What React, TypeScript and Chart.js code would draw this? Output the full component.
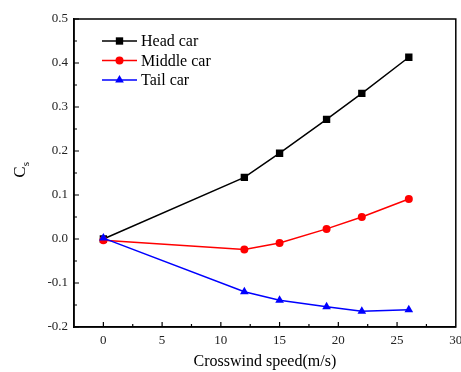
import React, { useEffect, useRef } from "react";
import { Chart, registerables } from "chart.js";

Chart.register(...registerables);

const speeds = [0, 12, 15, 19, 22, 26];
const headCar = [0.0, 0.14, 0.195, 0.272, 0.331, 0.413];
const middleCar = [-0.003, -0.024, -0.009, 0.023, 0.05, 0.091];
const tailCar = [0.002, -0.12, -0.139, -0.154, -0.164, -0.161];
const seriesLabels = ["Head car", "Middle car", "Tail car"];
const xTicks = [0, 5, 10, 15, 20, 25, 30];
const yTicks = [-0.2, -0.1, 0.0, 0.1, 0.2, 0.3, 0.4, 0.5];
const xMinorTicks = [2.5, 7.5, 12.5, 17.5, 22.5, 27.5];
const yMinorTicks = [-0.15, -0.05, 0.05, 0.15, 0.25, 0.35, 0.45];
const xTitle = "Crosswind speed(m/s)";

const FONT = "'Liberation Serif', 'Times New Roman', serif";

function drawMarker(ctx: CanvasRenderingContext2D, style: string, x: number, y: number, r: number, color: string) {
  ctx.save();
  ctx.fillStyle = color;
  ctx.beginPath();
  if (style === "rect") {
    const s = Math.SQRT1_2 * r;
    ctx.rect(x - s, y - s, 2 * s, 2 * s);
  } else if (style === "circle") {
    ctx.arc(x, y, r, 0, Math.PI * 2);
  } else if (style === "triangle") {
    let rad = 0;
    ctx.moveTo(x + Math.sin(rad) * r, y - Math.cos(rad) * r);
    rad += (2 * Math.PI) / 3;
    ctx.lineTo(x + Math.sin(rad) * r, y - Math.cos(rad) * r);
    rad += (2 * Math.PI) / 3;
    ctx.lineTo(x + Math.sin(rad) * r, y - Math.cos(rad) * r);
    ctx.closePath();
  }
  ctx.fill();
  ctx.restore();
}

const decorPlugin = {
  id: "decor",
  afterDraw(chart: any) {
    const ctx: CanvasRenderingContext2D = chart.ctx;
    const area = chart.chartArea;
    const xs = chart.scales.x;
    const ys = chart.scales.y;
    ctx.save();
    ctx.strokeStyle = "#000";
    ctx.lineWidth = 1.5;
    ctx.strokeRect(area.left, area.top, area.right - area.left, area.bottom - area.top);
    ctx.lineWidth = 1.2;
    ctx.beginPath();
    xTicks.forEach((v) => {
      const px = xs.getPixelForValue(v);
      if (px > area.right - 1) return;
      ctx.moveTo(px, area.bottom);
      ctx.lineTo(px, area.bottom - 5);
    });
    xMinorTicks.forEach((v) => {
      const px = xs.getPixelForValue(v);
      ctx.moveTo(px, area.bottom);
      ctx.lineTo(px, area.bottom - 3);
    });
    yTicks.forEach((v) => {
      const py = ys.getPixelForValue(v);
      ctx.moveTo(area.left, py);
      ctx.lineTo(area.left + 5, py);
    });
    yMinorTicks.forEach((v) => {
      const py = ys.getPixelForValue(v);
      ctx.moveTo(area.left, py);
      ctx.lineTo(area.left + 3, py);
    });
    ctx.stroke();

    // legend
    const lx = area.left + 28;
    const ly = area.top + 22;
    chart.data.datasets.forEach((ds: any, i: number) => {
      const y = ly + i * 19.5;
      ctx.strokeStyle = ds.borderColor;
      ctx.lineWidth = 1.5;
      ctx.beginPath();
      ctx.moveTo(lx, y);
      ctx.lineTo(lx + 35, y);
      ctx.stroke();
      drawMarker(ctx, ds.pointStyle, lx + 17.5, y, ds.pointRadius, ds.backgroundColor);
      ctx.fillStyle = "#000";
      ctx.font = `16px ${FONT}`;
      ctx.textBaseline = "middle";
      ctx.textAlign = "left";
      ctx.fillText(ds.label, lx + 39, y + 1);
    });

    // x title
    ctx.fillStyle = "#000";
    ctx.font = `16px ${FONT}`;
    ctx.textAlign = "center";
    ctx.textBaseline = "middle";
    ctx.fillText(xTitle, (area.left + area.right) / 2, 362);

    // y title C_s
    ctx.save();
    ctx.translate(21, (area.top + area.bottom) / 2 - 4);
    ctx.rotate(-Math.PI / 2);
    ctx.font = `17px ${FONT}`;
    ctx.textAlign = "left";
    ctx.textBaseline = "middle";
    const cw = ctx.measureText("C").width;
    ctx.fillText("C", -cw / 2 - 3, 0);
    ctx.font = `11px ${FONT}`;
    ctx.fillText("s", cw / 2 - 3, 5);
    ctx.restore();

    ctx.restore();
  },
};

export default function App() {
  const ref = useRef<HTMLCanvasElement | null>(null);
  useEffect(() => {
    if (!ref.current) return;
    const mk = (label: string, data: number[], color: string, style: string, r: number, order: number) => ({
      label,
      data: speeds.map((s, i) => ({ x: s, y: data[i] })),
      borderColor: color,
      backgroundColor: color,
      pointBackgroundColor: color,
      pointBorderColor: color,
      pointBorderWidth: 0,
      pointStyle: style,
      pointRadius: r,
      borderWidth: 1.5,
      tension: 0,
      order,
    });
    const chart = new Chart(ref.current, {
      type: "line",
      data: {
        datasets: [
          mk(seriesLabels[0], headCar, "#000000", "rect", 5.2, 2),
          mk(seriesLabels[1], middleCar, "#ff0000", "circle", 4, 1),
          mk(seriesLabels[2], tailCar, "#0000ff", "triangle", 5, 0),
        ] as any,
      },
      options: {
        responsive: false,
        animation: false,
        layout: { padding: { top: 19, right: 5, left: 0, bottom: 0 } },
        plugins: { legend: { display: false }, tooltip: { enabled: false } },
        scales: {
          x: {
            type: "linear",
            min: -2.5,
            max: 30,
            afterBuildTicks: (s: any) => {
              s.ticks = xTicks.map((v) => ({ value: v }));
            },
            afterFit: (s: any) => {
              s.height = 45;
              s.paddingLeft = 0;
              s.paddingRight = 0;
            },
            grid: { display: true, drawOnChartArea: false, drawTicks: false },
            border: { display: true, color: "#000", width: 1.5 },
            ticks: {
              padding: 6,
              color: "#222",
              font: { family: FONT, size: 13 },
              maxRotation: 0,
              autoSkip: false,
              callback: (v: any) => String(v),
            },
          },
          y: {
            type: "linear",
            min: -0.2,
            max: 0.5,
            afterBuildTicks: (s: any) => {
              s.ticks = yTicks.map((v) => ({ value: v }));
            },
            afterFit: (s: any) => {
              s.width = 74;
              s.paddingTop = 0;
              s.paddingBottom = 0;
            },
            grid: { display: true, drawOnChartArea: false, drawTicks: false },
            border: { display: true, color: "#000", width: 1.5 },
            ticks: {
              padding: 6,
              color: "#222",
              font: { family: FONT, size: 13 },
              autoSkip: false,
              callback: (v: any) => Number(v).toFixed(1),
            },
          },
        },
      },
      plugins: [decorPlugin],
    });
    return () => chart.destroy();
  }, []);
  return (
    <div style={{ position: "absolute", left: 0, top: 0, width: 461, height: 372, background: "#fff" }}>
      <canvas ref={ref} width={461} height={372} />
    </div>
  );
}
